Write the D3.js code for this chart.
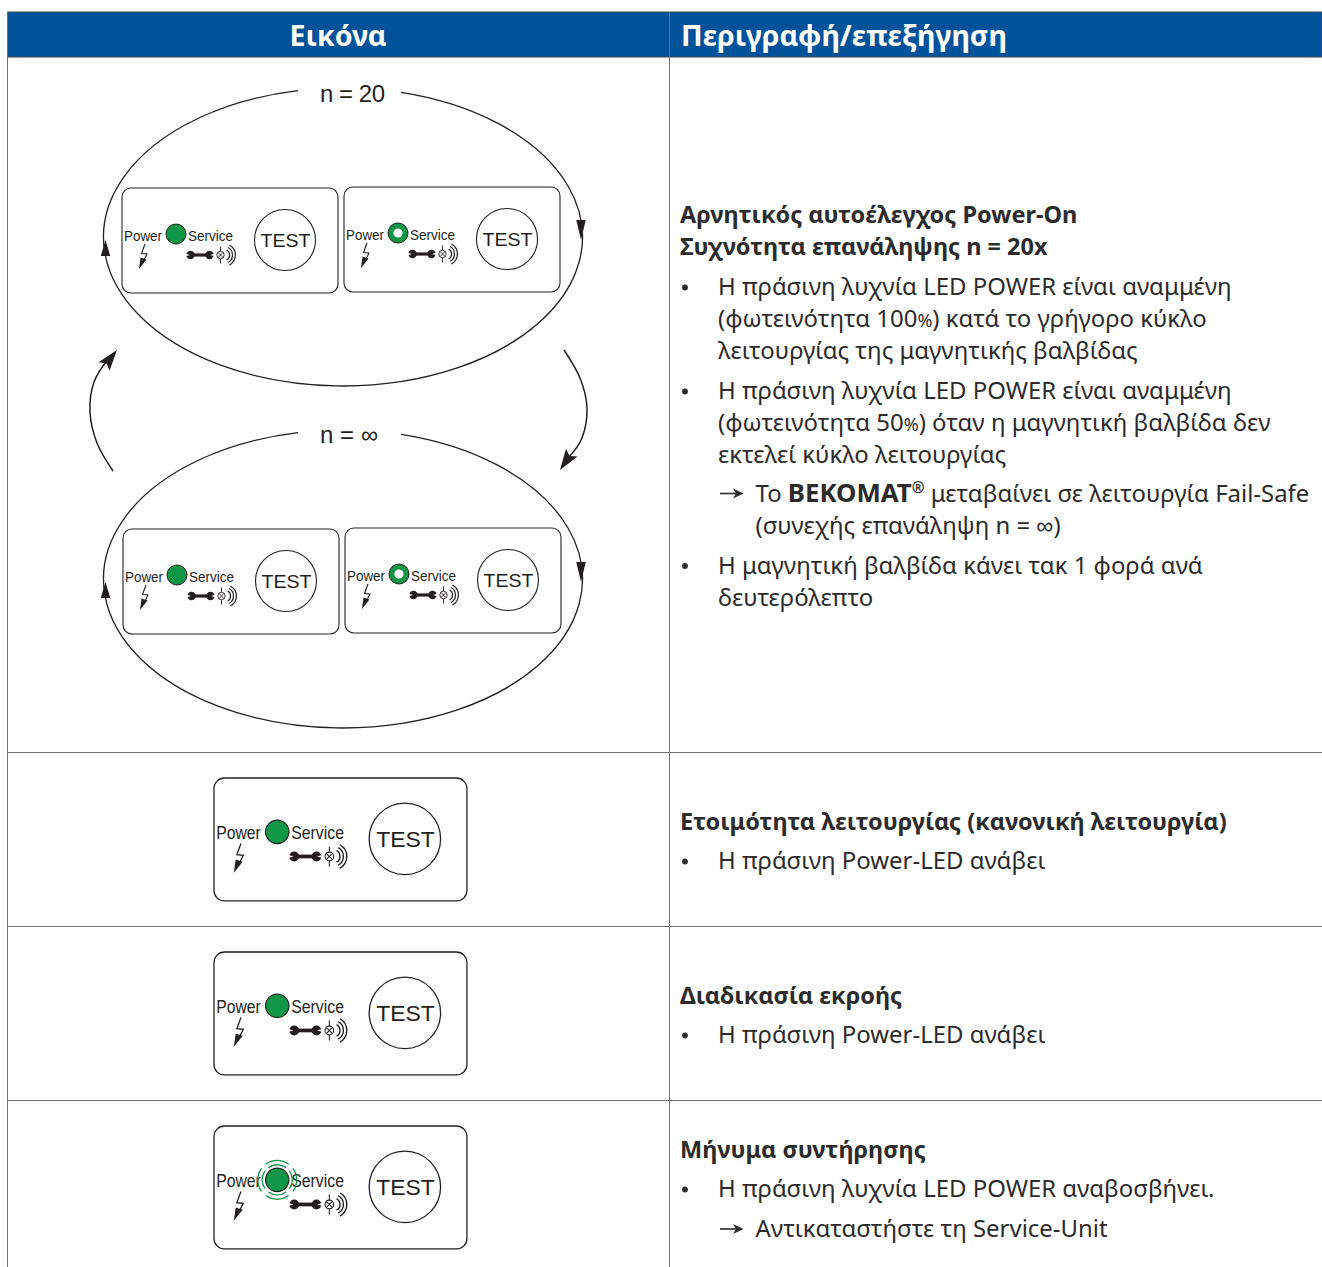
<!DOCTYPE html>
<html>
<head>
<meta charset="utf-8">
<style>
  html, body { margin: 0; padding: 0; background: #fff; }
  svg { display: block; }
  text { font-family: "Noto Sans", sans-serif; }
  .sans text, text.sans { font-family: "Liberation Sans", sans-serif; }
</style>
<script src="https://cdn.jsdelivr.net/npm/d3@7"></script>
</head>
<body>
<svg id="chart"></svg>
<script>
// table content
const headers = ["Εικόνα", "Περιγραφή/επεξήγηση"];
const loopLabels = ["n = 20", "n = ∞"];

// kind: t = bold title, b = first line of a bullet, c = bullet continuation, a = arrow line, d = arrow continuation
// the | marks pieces that get their own style (see pieceStyle)
const row1Text = [
  ["t", "Αρνητικός αυτοέλεγχος Power-On"],
  ["t", "Συχνότητα επανάληψης n = 20x"],
  ["b", "Η πράσινη λυχνία LED POWER είναι αναμμένη"],
  ["c", "(φωτεινότητα 100|%|) κατά το γρήγορο κύκλο"],
  ["c", "λειτουργίας της μαγνητικής βαλβίδας"],
  ["b", "Η πράσινη λυχνία LED POWER είναι αναμμένη"],
  ["c", "(φωτεινότητα 50|%|) όταν η μαγνητική βαλβίδα δεν"],
  ["c", "εκτελεί κύκλο λειτουργίας"],
  ["a", "Το |BEKOMAT|®| μεταβαίνει σε λειτουργία Fail-Safe"],
  ["d", "(συνεχής επανάληψη n = ∞)"],
  ["b", "Η μαγνητική βαλβίδα κάνει τακ 1 φορά ανά"],
  ["c", "δευτερόλεπτο"]
];
const row2Text = [
  ["t", "Ετοιμότητα λειτουργίας (κανονική λειτουργία)"],
  ["b", "Η πράσινη Power-LED ανάβει"]
];
const row3Text = [
  ["t", "Διαδικασία εκροής"],
  ["b", "Η πράσινη Power-LED ανάβει"]
];
const row4Text = [
  ["t", "Μήνυμα συντήρησης"],
  ["b", "Η πράσινη λυχνία LED POWER αναβοσβήνει."],
  ["a", "Αντικαταστήστε τη Service-Unit"]
];
const rowTexts = [row1Text, row2Text, row3Text, row4Text];

// LED state of each drawn panel
const panelStates = ["on", "ring", "on", "ring", "on", "on", "flash"];
const panelLabels = ["Power", "Service", "TEST"];

// layout
const width = 1322, height = 1267;
const tableLeft = 7.5, colSplit = 669.5;
const headTop = 12, headBottom = 57;
const rowLines = [752.5, 926.5, 1100.5];
const rowBaselines = [223, 830, 1004, 1158];
const panelSpots = [[122, 188, 1], [344, 187, 1], [123, 529, 1], [345, 528, 1], [214, 778, 1.171], [214, 952, 1.171], [214, 1126, 1.171]];
const loops = [{ cy: 237, lx: 352.5, ly: 102 }, { cy: 579, lx: 349, ly: 443 }];

const ink = "#231f20", textInk = "#2b2b2b", blue = "#00539b", green = "#0f9647", rule = "#707070";

const svg = d3.select("#chart").attr("width", width).attr("height", height);

// table frame
svg.append("rect").attr("x", tableLeft).attr("y", headTop).attr("width", width - tableLeft).attr("height", headBottom - headTop)
  .attr("fill", blue).attr("stroke", "#444").attr("stroke-width", 1);
svg.selectAll("line.rule").data(rowLines).join("line").attr("class", "rule")
  .attr("x1", tableLeft).attr("x2", width).attr("y1", d => d).attr("y2", d => d)
  .attr("stroke", rule).attr("stroke-width", 1);
svg.append("line").attr("x1", tableLeft).attr("x2", tableLeft).attr("y1", headTop).attr("y2", height).attr("stroke", rule);
svg.append("line").attr("x1", colSplit).attr("x2", colSplit).attr("y1", headTop).attr("y2", height).attr("stroke", rule);

// header text
svg.selectAll("text.head").data(headers).join("text").attr("class", "head")
  .attr("x", (d, i) => i ? 681 : 338).attr("y", 46)
  .attr("text-anchor", (d, i) => i ? "start" : "middle")
  .attr("fill", "#fff").attr("font-weight", 700).attr("font-size", 29)
  .attr("textLength", (d, i) => i ? 326 : 97).attr("lengthAdjust", "spacingAndGlyphs")
  .text(d => d);

// the two loops, drawn as elliptical arcs with a gap for the label
const rx = 239.5, ry = 149, cx = 343, gapL = 45, gapR = 58;
function loopPath(cy) {
  const yAt = dx => cy - ry * Math.sqrt(1 - (dx * dx) / (rx * rx));
  return `M${cx + gapR},${yAt(gapR)} A${rx},${ry} 0 1 1 ${cx - gapL},${yAt(gapL)}`;
}
const loopG = svg.append("g");
loopG.selectAll("path.loop").data(loops).join("path").attr("class", "loop")
  .attr("d", d => loopPath(d.cy)).attr("fill", "none").attr("stroke", ink).attr("stroke-width", 1.3);
loopG.selectAll("text").data(loopLabels).join("text").attr("class", "sans")
  .attr("x", (d, i) => loops[i].lx).attr("y", (d, i) => loops[i].ly)
  .attr("text-anchor", "middle").attr("font-size", 24)
  .attr("textLength", (d, i) => i ? 58 : 65).attr("lengthAdjust", "spacing")
  .attr("fill", ink).text(d => d);

// arrow heads on the loops
const triangle = d3.line();
function head(g, tip, angle, len, wid, notch) {
  g.append("path")
    .attr("d", triangle([[0, 0], [-len, -wid / 2], [-len + notch, 0], [-len, wid / 2]]) + "Z")
    .attr("transform", `translate(${tip[0]},${tip[1]}) rotate(${angle})`)
    .attr("fill", ink);
}
loops.forEach(l => {
  head(loopG, [105.5, l.cy + 3], -90, 16, 9.5, 0);
  head(loopG, [581, l.cy + 3], 90, 20, 9.5, 0);
});

// connecting arrows between the loops
const curve = d3.line().curve(d3.curveCardinal.tension(0));
const sideArrows = [
  { pts: [[113, 471], [97, 443], [90, 412], [94, 382], [109, 358]], tip: [117, 350], a: -52 },
  { pts: [[564, 350], [580, 378], [587, 408], [582, 438], [568, 458]], tip: [560, 470], a: 124 }
];
loopG.selectAll("path.side").data(sideArrows).join("path").attr("class", "side")
  .attr("d", d => curve(d.pts)).attr("fill", "none").attr("stroke", ink).attr("stroke-width", 1.5);
sideArrows.forEach(d => head(loopG, d.tip, d.a, 21, 14, 4));

// one control panel, drawn in its own 216 x 105 box
function drawPanel(g, state) {
  g.append("rect").attr("x", 0).attr("y", 0).attr("width", 216).attr("height", 105).attr("rx", 9)
    .attr("fill", "#fff").attr("stroke", ink).attr("stroke-width", 1.1);
  const label = g.append("g").attr("class", "sans").attr("fill", ink);
  label.append("text").attr("x", 2).attr("y", 52.5).attr("font-size", 15.5)
    .attr("textLength", 38).attr("lengthAdjust", "spacingAndGlyphs").text(panelLabels[0]);
  label.append("text").attr("x", 66).attr("y", 52.5).attr("font-size", 15.5)
    .attr("textLength", 45).attr("lengthAdjust", "spacingAndGlyphs").text(panelLabels[1]);
  label.append("text").attr("x", 138.5).attr("y", 59).attr("font-size", 19)
    .attr("textLength", 50).attr("lengthAdjust", "spacingAndGlyphs").text(panelLabels[2]);
  g.append("circle").attr("cx", 163).attr("cy", 52).attr("r", 30.5).attr("fill", "none").attr("stroke", ink).attr("stroke-width", 1.1);

  if (state === "flash") {
    const arc = d3.arc();
    const span = 36 * Math.PI / 180;
    const rings = [12.9, 16.6].flatMap(r => [0, 90, 180, 270].map(a => ({ r, mid: a * Math.PI / 180 })));
    g.selectAll("path.ring").data(rings).join("path").attr("class", "ring")
      .attr("transform", "translate(54,46)")
      .attr("d", d => arc({ innerRadius: d.r - 0.55, outerRadius: d.r + 0.55, startAngle: d.mid - span, endAngle: d.mid + span }))
      .attr("fill", green);
  }
  g.append("circle").attr("cx", 54).attr("cy", 46).attr("r", 10).attr("fill", green).attr("stroke", ink).attr("stroke-width", 1);
  if (state === "ring") g.append("circle").attr("cx", 54).attr("cy", 46).attr("r", 4.6).attr("fill", "#fff");

  // power bolt
  g.append("path").attr("d", "M23,56 L19.5,65.5 L25,66 L22,72").attr("fill", "none").attr("stroke", ink).attr("stroke-width", 1.1);
  g.append("path").attr("d", "M24.5,71.5 L17,81 L18.5,69.5 Z").attr("fill", ink);

  // wrench
  g.append("path").attr("d", "M68,67 H88").attr("stroke", ink).attr("stroke-width", 3.2);
  g.selectAll("circle.jaw").data([68.5, 87.5]).join("circle").attr("class", "jaw")
    .attr("cx", d => d).attr("cy", 67).attr("r", 4.2).attr("fill", ink);
  g.selectAll("path.jawgap").data([[63.8, 68], [92.2, 88]]).join("path").attr("class", "jawgap")
    .attr("d", d => `M${d[0]},65.8 L${d[1]},67 L${d[0]},68.2 Z`).attr("fill", "#fff");

  // lamp with sound waves
  g.append("circle").attr("cx", 98.5).attr("cy", 67).attr("r", 3.7).attr("fill", "none").attr("stroke", ink).attr("stroke-width", 0.9);
  g.append("path").attr("d", "M98.5,58.5 V63.3 M98.5,70.7 V75.5 M96,64.5 L101,69.5 M101,64.5 L96,69.5")
    .attr("fill", "none").attr("stroke", ink).attr("stroke-width", 0.9);
  const wave = d3.arc();
  g.selectAll("path.wave").data([5.6, 8.5, 11.4]).join("path").attr("class", "wave")
    .attr("transform", "translate(102,67)")
    .attr("d", d => wave({ innerRadius: d - 0.6, outerRadius: d + 0.6, startAngle: 0.5, endAngle: 2.65 }))
    .attr("fill", ink);
}
svg.selectAll("g.panel").data(panelSpots).join("g").attr("class", "panel")
  .attr("transform", d => `translate(${d[0]},${d[1]}) scale(${d[2]})`)
  .each(function (d, i) { drawPanel(d3.select(this), panelStates[i]); });

// description column; line gap depends on what follows what
const indent = { t: 680, b: 718, c: 718, a: 755.5, d: 755.5 };
function gapFor(prev, kind, r) {
  if (kind === "t" || kind === "c" || kind === "d") return 32;
  if (kind === "a") return prev === "b" ? 40 : 38.5;
  if (prev === "t") return r === 0 ? 40 : 39;
  return 40;
}
const descLines = rowTexts.flatMap((lines, r) => {
  let y = rowBaselines[r];
  return lines.map((l, i) => {
    if (i) y += gapFor(lines[i - 1][0], l[0], r);
    return { kind: l[0], text: l[1], y };
  });
});
const pieceStyle = {
  "BEKOMAT": { weight: 700, size: 25.8 },
  "®": { weight: 700, size: 15.5 },
  "%": { size: 18 }
};
const desc = svg.selectAll("text.desc").data(descLines).join("text").attr("class", "desc")
  .attr("x", d => indent[d.kind]).attr("y", d => d.y)
  .attr("fill", textInk).attr("font-size", d => d.kind === "t" ? 23.5 : 23.93)
  .attr("font-weight", d => d.kind === "t" ? 700 : 400);
desc.each(function (d) {
  const parts = d.text.split("|");
  d3.select(this).selectAll("tspan").data(parts).join("tspan")
    .attr("font-weight", p => (pieceStyle[p] || {}).weight || null)
    .attr("font-size", p => (pieceStyle[p] || {}).size || null)
    .attr("dy", (p, i) => p === "®" ? -9 : (i && parts[i - 1] === "®" ? 9 : null))
    .text(p => p);
});
svg.selectAll("circle.dot").data(descLines.filter(d => d.kind === "b")).join("circle").attr("class", "dot")
  .attr("cx", 685).attr("cy", d => d.y - 7.5).attr("r", 2.9).attr("fill", textInk);
const arrowRows = descLines.filter(d => d.kind === "a");
svg.selectAll("path.bar").data(arrowRows).join("path").attr("class", "bar")
  .attr("d", d => `M720,${d.y - 8} H737`).attr("stroke", textInk).attr("stroke-width", 1.6);
svg.selectAll("path.tip").data(arrowRows).join("path").attr("class", "tip")
  .attr("d", d => `M743.5,${d.y - 8} L733,${d.y - 13} L736,${d.y - 8} L733,${d.y - 3} Z`).attr("fill", textInk);
</script>
</body>
</html>
